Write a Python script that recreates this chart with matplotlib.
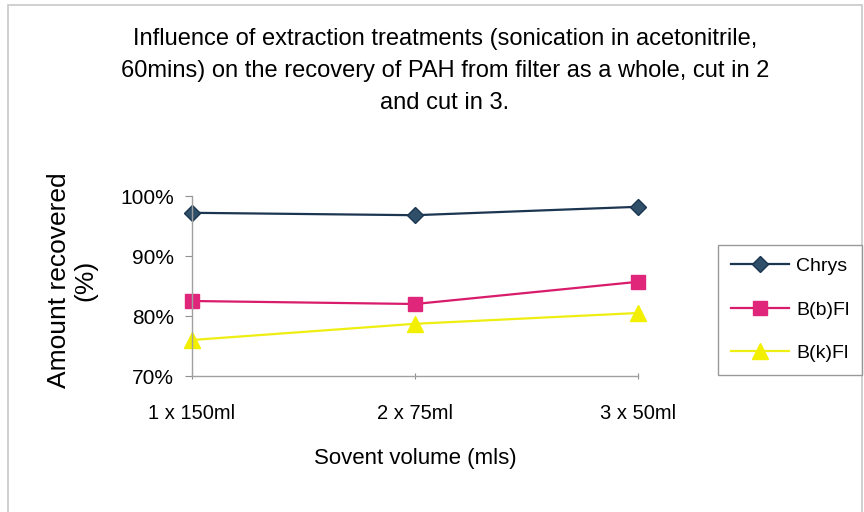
import matplotlib.pyplot as plt
from matplotlib.patches import Rectangle

# recovery of PAH for each extraction treatment
volumes = ['1 x 150ml', '2 x 75ml', '3 x 50ml']
chrys = [97.2, 96.8, 98.2]
bbfl = [82.5, 82.0, 85.7]
bkfl = [76.0, 78.7, 80.5]

plt.rcParams['font.family'] = ['Liberation Sans', 'DejaVu Sans']

fig = plt.figure(figsize=(8.64, 5.12), dpi=100)
fig.patches.append(Rectangle((8/864, -0.01), 854/864, 1 - 5/512 + 0.01, transform=fig.transFigure,
                             fill=False, edgecolor='#c8c8c8', linewidth=1.2))

ax = fig.add_axes([192/864, 1 - 376/512, 446/864, 180/512])
x = range(len(volumes))
ax.plot(x, chrys, color='#1c3550', marker='D', markersize=8, markerfacecolor='#2f5068',
        markeredgecolor='#1c3550', linewidth=1.6, label='Chrys', clip_on=False)
ax.plot(x, bbfl, color='#d81b6a', marker='s', markersize=10, markerfacecolor='#e0267a',
        markeredgecolor='#e0267a', linewidth=1.6, label='B(b)Fl', clip_on=False)
ax.plot(x, bkfl, color='#eeee10', marker='^', markersize=11, markerfacecolor='#f2f000',
        markeredgecolor='#f2f000', linewidth=1.6, label='B(k)Fl', clip_on=False)

ax.set_xlim(0, 2)
ax.set_ylim(70, 100)
ax.set_yticks([70, 80, 90, 100])
ax.set_yticklabels(['70%', '80%', '90%', '100%'], fontsize=15)
ax.set_xticks(list(x))
ax.set_xticklabels(volumes, fontsize=14.5)
ax.tick_params(axis='y', length=5, color='#909090', pad=8)
ax.tick_params(axis='x', length=5, color='#909090', pad=18, direction='inout')
for s in ['top', 'right']:
    ax.spines[s].set_visible(False)
for s in ['left', 'bottom']:
    ax.spines[s].set_color('#a0a0a0')
    ax.spines[s].set_linewidth(1)

ax.set_xlabel('Sovent volume (mls)', fontsize=16, labelpad=18)
fig.text(72/864, 1 - 280/512, 'Amount recovered\n(%)', rotation=90, ha='center', va='center',
         fontsize=19, linespacing=1.15)

fig.text(445/864, 1 - 71/512,
         'Influence of extraction treatments (sonication in acetonitrile,\n'
         '60mins) on the recovery of PAH from filter as a whole, cut in 2\n'
         'and cut in 3.', ha='center', va='center', fontsize=17, linespacing=1.58)

leg = fig.legend(loc='upper right', bbox_to_anchor=(862/864, 1 - 245/512), fontsize=14,
                 frameon=True, fancybox=False, handlelength=3.0, labelspacing=1.33,
                 borderpad=0.65, handletextpad=0.35, borderaxespad=0)
leg.get_frame().set_edgecolor('#808080')
leg.get_frame().set_linewidth(1)

fig.savefig('out.png', dpi=100)
